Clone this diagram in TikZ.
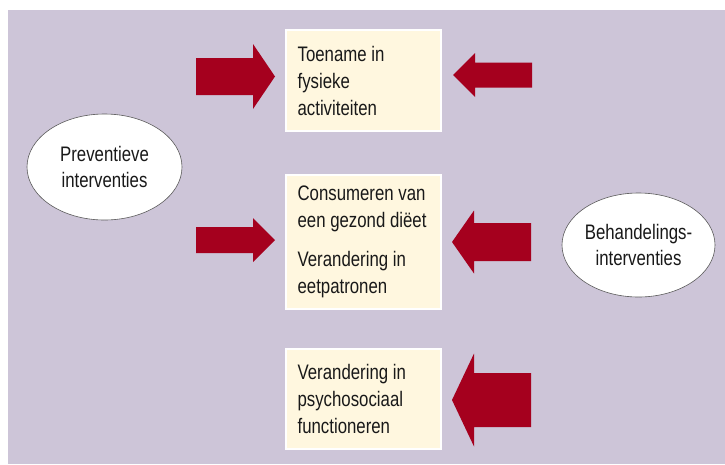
\documentclass[tikz,border=0pt]{standalone}
\usepackage{fontspec}
\setmainfont{Liberation Sans}[FakeStretch=0.8]
\usetikzlibrary{shapes.geometric}
\definecolor{bgcol}{RGB}{205,197,216}
\definecolor{boxcol}{RGB}{255,247,223}
\definecolor{arrcol}{RGB}{165,0,30}
\definecolor{txtcol}{RGB}{25,25,25}
\definecolor{ellline}{RGB}{90,90,90}
\newcommand{\blockarrow}[6]{%
  \fill[arrcol] (#1,#4-#5) -- (#2,#4-#5) -- (#2,#4-#6) -- (#3,#4) -- (#2,#4+#6) -- (#2,#4+#5) -- (#1,#4+#5) -- cycle;}
\begin{document}
\begin{tikzpicture}[x=1pt,y=-1pt,
  txt/.style={font=\fontsize{21}{27}\selectfont, text=txtcol},
  infobox/.style={draw=white, line width=1.2pt, fill=boxcol, rectangle,
    minimum width=155pt, inner sep=0pt},
  boxtext/.style={txt, anchor=west, align=left, inner sep=0pt},
  ellnode/.style={txt, font=\fontsize{21}{26}\selectfont, ellipse, draw=ellline, line width=0.6pt, fill=white,
    inner sep=0pt, align=center}]
\useasboundingbox (0,0) rectangle (725,464);
\fill[bgcol] (8,10) rectangle (725,464);
\node[infobox, minimum height=101pt] (b1) at (363.5,80.5) {};
\node[boxtext] (t1) at ([xshift=12pt]b1.west) {Toename in\\fysieke\\activiteiten};
\node[infobox, minimum height=134pt] (b2) at (363.5,242) {};
\node[boxtext] (t2) at ([xshift=12pt]b2.west) {Consumeren van\\een gezond diëet\\[12pt]Verandering in\\eetpatronen};
\node[infobox, minimum height=100pt] (b3) at (363.5,399) {};
\node[boxtext] (t3) at ([xshift=12pt]b3.west) {Verandering in\\psychosociaal\\functioneren};
\node[ellnode, minimum width=155pt, minimum height=106pt] (pre) at (104.5,167) {Preventieve\\interventies};
\node[ellnode, minimum width=153pt, minimum height=104pt] (beh) at (638.5,245) {Behandelings-\\interventies};
\blockarrow{196}{253}{275}{76.5}{18.5}{32.5}
\blockarrow{196}{253}{275}{240}{13}{22}
\blockarrow{532}{475}{453}{75}{12.5}{22}
\blockarrow{531}{474}{452}{242}{19}{31.5}
\blockarrow{531}{474}{452}{400}{27}{46.5}
\end{tikzpicture}
\end{document}
